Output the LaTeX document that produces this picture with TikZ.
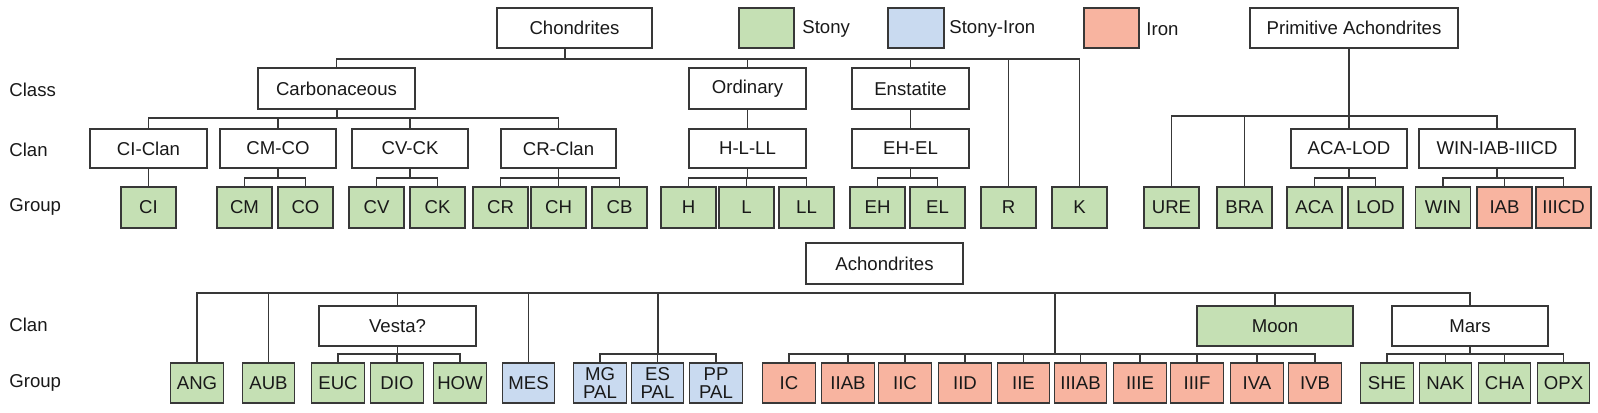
\documentclass[tikz,border=0pt]{standalone}
\usepackage{fontspec}
\setmainfont{Liberation Sans}

\definecolor{stonyc}{HTML}{C5E0B4}
\definecolor{sironc}{HTML}{C9DAF0}
\definecolor{ironc}{HTML}{F8B4A0}
\definecolor{edge}{HTML}{383838}

\tikzset{
  bx/.style={draw=edge,line width=.65pt,inner sep=0pt,fill=white,text=black!90},
  hd/.style={bx,minimum height=20pt,minimum width=#1},
  cls/.style={bx,minimum height=20.5pt,minimum width=#1},
  cln/.style={bx,minimum height=19.5pt,minimum width=#1},
  grp/.style={bx,minimum height=20.5pt,minimum width=27.5pt},
  grq/.style={bx,minimum height=20pt,minimum width=26.25pt,align=center},
  stony/.style={fill=stonyc},
  siron/.style={fill=sironc},
  iron/.style={fill=ironc},
  lbl/.style={anchor=west,inner sep=0pt,text=black!90},
  ln/.style={draw=edge,line width=.65pt}
}

\begin{document}
\begin{tikzpicture}[x=.5pt,y=-.5pt,every node/.style={font=\fontsize{9.3}{9.3}\selectfont}]
\useasboundingbox (0,0) rectangle (1598,412);

% row labels
\node[lbl] (lclass) at (9,90) {Class};
\node[lbl] (lclan) at (9,150) {Clan};
\node[lbl] (lgroup) at (9,207) {Group};
\node[lbl] (lclanb) at (9,325) {Clan};
\node[lbl] (lgroupb) at (9,383) {Group};

% header and legend
\node[hd=77.5pt] (chon) at (574.5,28) {Chondrites};
\node[hd=27.5pt,stony] (kst) at (766.5,28) {};
\node[lbl] (tst) at (802,29) {Stony};
\node[hd=28pt,siron] (ksi) at (916,28) {};
\node[lbl] (tsi) at (949,29) {Stony-Iron};
\node[hd=27.5pt,iron] (kir) at (1111.5,28) {};
\node[lbl] (tir) at (1146,29) {Iron};
\node[hd=104pt] (prim) at (1354,28) {Primitive Achondrites};

% chondrites
\node[cls=78.5pt] (carb) at (336.5,88.5) {Carbonaceous};
\node[cls=58.5pt] (ord) at (747.5,88.5) {Ordinary};
\node[cls=58.5pt] (ens) at (910.5,88.5) {Enstatite};

\node[cln=58.5pt] (ciclan) at (148.5,148.5) {CI-Clan};
\node[cln=58pt] (cmco) at (278,148.5) {CM-CO};
\node[cln=58pt] (cvck) at (410,148.5) {CV-CK};
\node[cln=57.5pt] (crclan) at (558.5,148.5) {CR-Clan};
\node[cln=58.5pt] (hlll) at (747.5,148.5) {H-L-LL};
\node[cln=58.5pt] (ehel) at (910.5,148.5) {EH-EL};
\node[cln=58pt] (acalod) at (1349,148.5) {ACA-LOD};
\node[cln=78pt] (winiab) at (1497,148.5) {WIN-IAB-IIICD};

\node[grp,stony] (ci) at (148.5,207.5) {CI};
\node[grp,stony] (cm) at (244.5,207.5) {CM};
\node[grp,stony] (co) at (305.5,207.5) {CO};
\node[grp,stony] (cv) at (376.5,207.5) {CV};
\node[grp,stony] (ck) at (437.5,207.5) {CK};
\node[grp,stony] (cr) at (500.5,207.5) {CR};
\node[grp,stony] (ch) at (558.5,207.5) {CH};
\node[grp,stony] (cbb) at (619.5,207.5) {CB};
\node[grp,stony] (h) at (688.5,207.5) {H};
\node[grp,stony] (l) at (746.5,207.5) {L};
\node[grp,stony] (ll) at (806.5,207.5) {LL};
\node[grp,stony] (eh) at (877.5,207.5) {EH};
\node[grp,stony] (el) at (937.5,207.5) {EL};
\node[grp,stony] (r) at (1008.5,207.5) {R};
\node[grp,stony] (k) at (1079.5,207.5) {K};
\node[grp,stony] (ure) at (1171.5,207.5) {URE};
\node[grp,stony] (bra) at (1244.5,207.5) {BRA};
\node[grp,stony] (aca) at (1314.5,207.5) {ACA};
\node[grp,stony] (lod) at (1375.5,207.5) {LOD};
\node[grp,stony] (win) at (1443,207.5) {WIN};
\node[grp,iron] (iab) at (1504.5,207.5) {IAB};
\node[grp,iron] (iiicd) at (1563.5,207.5) {IIICD};

% achondrites
\node[cls=78.5pt] (achon) at (884.5,263.5) {Achondrites};
\node[hd=78.5pt] (vesta) at (397.5,326) {Vesta?};
\node[hd=78pt,stony] (moon) at (1275,326) {Moon};
\node[hd=78pt] (mars) at (1470,326) {Mars};

\node[grq,stony] (ang) at (197,383) {ANG};
\node[grq,stony] (aub) at (268.5,383) {AUB};
\node[grq,stony] (euc) at (338,383) {EUC};
\node[grq,stony] (dio) at (397,383) {DIO};
\node[grq,stony] (how) at (460,383) {HOW};
\node[grq,siron] (mes) at (528.5,383) {MES};
\node[grq,siron] (mgpal) at (600,383) {MG\\PAL};
\node[grq,siron] (espal) at (657.5,383) {ES\\PAL};
\node[grq,siron] (pppal) at (716,383) {PP\\PAL};
\node[grq,iron] (ic) at (789,383) {IC};
\node[grq,iron] (iiab) at (848,383) {IIAB};
\node[grq,iron] (iic) at (905,383) {IIC};
\node[grq,iron] (iid) at (965,383) {IID};
\node[grq,iron] (iie) at (1023.5,383) {IIE};
\node[grq,iron] (iiiab) at (1080.5,383) {IIIAB};
\node[grq,iron] (iiie) at (1140,383) {IIIE};
\node[grq,iron] (iiif) at (1197,383) {IIIF};
\node[grq,iron] (iva) at (1257,383) {IVA};
\node[grq,iron] (ivb) at (1315,383) {IVB};
\node[grq,stony] (she) at (1387,383) {SHE};
\node[grq,stony] (nak) at (1445.5,383) {NAK};
\node[grq,stony] (cha) at (1504.5,383) {CHA};
\node[grq,stony] (opx) at (1563.5,383) {OPX};

% bus points
\coordinate (bchon) at (565,59);
\coordinate (bcarb) at (337,118);
\coordinate (bcmco) at (278,178);
\coordinate (bcvck) at (410,178);
\coordinate (bcr) at (558.5,178);
\coordinate (bhlll) at (747.5,178);
\coordinate (behel) at (910.5,178);
\coordinate (bprim) at (1349,116);
\coordinate (bacalod) at (1349,178);
\coordinate (bwin) at (1497,178);
\coordinate (bachon) at (884.5,293);
\coordinate (bvesta) at (397.5,354);
\coordinate (bpal) at (658,354);
\coordinate (biron) at (1055,354);
\coordinate (bmars) at (1470,354);

% connectors
\draw[ln] (chon.south -| bchon) -- (bchon);
\draw[ln] (carb.north) |- (bchon) (ord.north) |- (bchon) (ens.north) |- (bchon);
\draw[ln] (r.north) |- (bchon) (k.north) |- (bchon);
\draw[ln] (carb.south -| bcarb) -- (bcarb);
\draw[ln] (ciclan.north) |- (bcarb) (cmco.north) |- (bcarb) (cvck.north) |- (bcarb) (crclan.north) |- (bcarb);
\draw[ln] (ciclan.south) -- (ci.north);
\draw[ln] (cmco.south) -- (bcmco) (cm.north) |- (bcmco) (co.north) |- (bcmco);
\draw[ln] (cvck.south) -- (bcvck) (cv.north) |- (bcvck) (ck.north) |- (bcvck);
\draw[ln] (crclan.south) -- (bcr) (cr.north) |- (bcr) (ch.north) |- (bcr) (cbb.north) |- (bcr);
\draw[ln] (ord.south) -- (hlll.north);
\draw[ln] (hlll.south) -- (bhlll) (h.north) |- (bhlll) (l.north) |- (bhlll) (ll.north) |- (bhlll);
\draw[ln] (ens.south) -- (ehel.north);
\draw[ln] (ehel.south) -- (behel) (eh.north) |- (behel) (el.north) |- (behel);
\draw[ln] (prim.south -| bprim) -- (bprim);
\draw[ln] (ure.north) |- (bprim) (bra.north) |- (bprim) (acalod.north) |- (bprim) (winiab.north) |- (bprim);
\draw[ln] (acalod.south) -- (bacalod) (aca.north) |- (bacalod) (lod.north) |- (bacalod);
\draw[ln] (winiab.south) -- (bwin) (win.north) |- (bwin) (iab.north) |- (bwin) (iiicd.north) |- (bwin);

\draw[ln] (ang.north) |- (bachon) (aub.north) |- (bachon) (vesta.north) |- (bachon) (mes.north) |- (bachon);
\draw[ln] (bpal) |- (bachon) (biron) |- (bachon) (moon.north) |- (bachon) (mars.north) |- (bachon);
\draw[ln] (vesta.south) -- (bvesta) (euc.north) |- (bvesta) (dio.north) |- (bvesta) (how.north) |- (bvesta);
\draw[ln] (mgpal.north) |- (bpal) (espal.north) |- (bpal) (pppal.north) |- (bpal);
\draw[ln] (ic.north) |- (biron) (iiab.north) |- (biron) (iic.north) |- (biron) (iid.north) |- (biron) (iie.north) |- (biron);
\draw[ln] (iiiab.north) |- (biron) (iiie.north) |- (biron) (iiif.north) |- (biron) (iva.north) |- (biron) (ivb.north) |- (biron);
\draw[ln] (mars.south) -- (bmars) (she.north) |- (bmars) (nak.north) |- (bmars) (cha.north) |- (bmars) (opx.north) |- (bmars);
\end{tikzpicture}
\end{document}
